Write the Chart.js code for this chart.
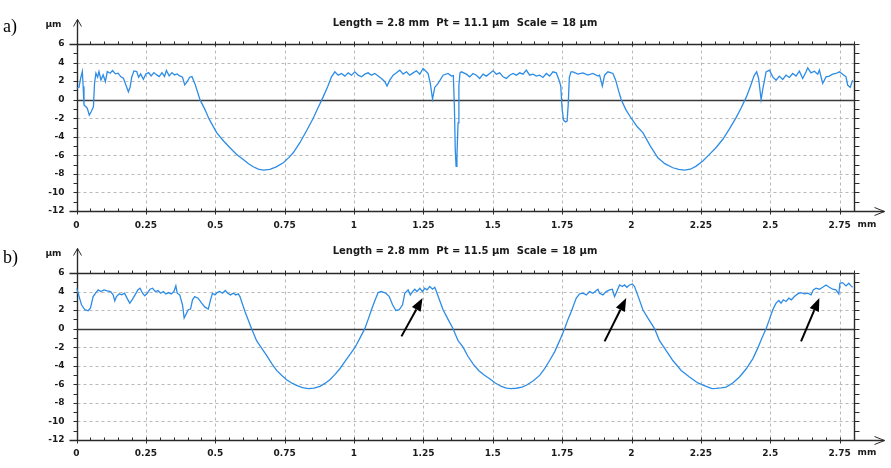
<!DOCTYPE html>
<html>
<head>
<meta charset="utf-8">
<script src="https://cdn.jsdelivr.net/npm/chart.js@4/dist/chart.umd.min.js"></script>
<style>
  html, body { margin: 0; padding: 0; background: #fff; }
  #wrap { position: relative; width: 891px; height: 468px; }
  canvas { position: absolute; left: 0; }
  #chartA { top: 0; }
  #chartB { top: 234px; }
</style>
</head>
<body>
<div id="wrap">
  <canvas id="chartA" width="891" height="234"></canvas>
  <canvas id="chartB" width="891" height="234"></canvas>
</div>
<script>
// Ejes (mm / µm)
const xTickValues = [0, 0.25, 0.5, 0.75, 1, 1.25, 1.5, 1.75, 2, 2.25, 2.5, 2.75];
const xTickLabels = ["0", "0.25", "0.5", "0.75", "1", "1.25", "1.5", "1.75", "2", "2.25", "2.5", "2.75"];
const yTickValues = [-12, -10, -8, -6, -4, -2, 0, 2, 4, 6];
const yTickLabels = ["-12", "-10", "-8", "-6", "-4", "-2", "0", "2", "4", "6"];

// Cabeceras de cada perfil
const titleA = "Length = 2.8 mm  Pt = 11.1 µm  Scale = 18 µm";
const titleB = "Length = 2.8 mm  Pt = 11.5 µm  Scale = 18 µm";

// Perfil a) [x mm, z µm]
const profileA = [
  [0.000,1.23],[0.009,1.34],[0.015,2.31],[0.021,3.03],[0.024,1.41],[0.027,-0.58],[0.034,-0.76],[0.039,-0.94],
  [0.046,-1.66],[0.053,-1.30],[0.061,-0.76],[0.065,1.77],[0.070,2.85],[0.076,2.42],[0.081,3.03],[0.088,2.13],
  [0.096,2.67],[0.104,1.95],[0.111,3.03],[0.121,2.85],[0.130,3.14],[0.140,2.78],[0.150,2.85],[0.159,2.49],
  [0.169,2.31],[0.178,1.59],[0.187,0.85],[0.193,1.34],[0.199,2.42],[0.207,3.10],[0.217,3.03],[0.224,2.42],
  [0.231,2.78],[0.241,2.20],[0.250,2.78],[0.260,2.92],[0.269,2.56],[0.279,2.92],[0.289,2.67],[0.298,2.49],
  [0.308,2.92],[0.317,2.49],[0.324,3.14],[0.334,2.56],[0.344,2.92],[0.353,2.67],[0.363,2.78],[0.372,2.56],
  [0.382,2.42],[0.390,1.59],[0.399,1.95],[0.408,2.42],[0.416,2.49],[0.427,1.70],[0.445,0.00],
  [0.463,-1.07],[0.478,-2.10],[0.505,-3.55],[0.530,-4.45],[0.553,-5.18],[0.577,-5.90],[0.601,-6.44],[0.620,-6.90],
  [0.637,-7.23],[0.655,-7.48],[0.673,-7.60],[0.697,-7.52],[0.720,-7.25],[0.745,-6.80],[0.765,-6.25],[0.781,-5.72],
  [0.805,-4.64],[0.830,-3.30],[0.853,-2.00],[0.870,-0.90],[0.889,0.30],[0.905,1.40],[0.919,2.46],[0.931,3.00],
  [0.943,2.64],[0.955,2.82],[0.967,2.54],[0.979,2.89],[0.991,2.64],[1.003,3.00],[1.015,2.64],[1.027,2.46],
  [1.039,2.75],[1.051,2.89],[1.063,2.64],[1.075,2.82],[1.087,2.54],[1.099,2.29],[1.111,1.93],[1.119,1.46],
  [1.129,2.10],[1.141,2.64],[1.153,2.89],[1.165,3.18],[1.177,2.75],[1.189,3.00],[1.201,2.64],[1.213,2.89],
  [1.225,3.11],[1.237,2.75],[1.249,3.36],[1.261,3.00],[1.267,2.82],[1.275,1.75],[1.283,0.07],[1.291,1.32],
  [1.303,1.75],[1.321,2.64],[1.339,2.82],[1.351,2.54],[1.358,2.60],[1.362,-1.00],[1.365,-5.50],[1.368,-7.20],
  [1.371,-6.00],[1.375,-2.50],[1.378,1.50],[1.382,2.90],[1.387,3.00],
  [1.405,2.75],[1.417,2.46],[1.429,2.82],[1.441,2.64],[1.453,2.29],[1.465,2.75],[1.477,2.54],[1.489,2.82],
  [1.501,3.11],[1.513,2.75],[1.525,2.89],[1.537,2.46],[1.549,2.29],[1.561,2.64],[1.573,2.82],[1.585,2.64],
  [1.597,2.89],[1.609,2.75],[1.621,3.18],[1.633,2.64],[1.645,2.75],[1.657,2.54],[1.669,2.64],[1.681,2.39],
  [1.693,2.82],[1.705,2.54],[1.717,3.00],[1.729,2.89],[1.739,2.10],[1.745,1.50],[1.750,-1.00],[1.755,-2.20],
  [1.762,-2.40],[1.768,-2.30],[1.772,-0.50],[1.776,2.40],[1.782,3.00],
  [1.789,3.00],[1.807,2.75],[1.825,2.89],[1.843,2.64],[1.861,2.82],[1.879,2.54],[1.885,2.64],[1.895,1.46],
  [1.903,2.64],[1.915,3.00],[1.933,2.82],[1.943,2.10],[1.953,1.00],[1.963,0.00],[1.980,-1.10],[1.999,-2.00],
  [2.020,-2.90],[2.041,-3.55],[2.068,-5.00],[2.095,-6.26],[2.120,-6.90],[2.149,-7.34],[2.170,-7.52],[2.191,-7.60],
  [2.212,-7.50],[2.233,-7.16],[2.257,-6.60],[2.281,-5.90],[2.305,-5.15],[2.329,-4.27],[2.353,-3.15],[2.377,-1.93],
  [2.395,-0.90],[2.414,0.30],[2.428,1.40],[2.442,2.60],[2.451,3.00],[2.458,2.30],[2.467,0.00],[2.473,1.10],
  [2.485,3.00],[2.497,3.18],
  [2.509,2.46],[2.521,2.10],[2.533,2.54],[2.545,2.18],[2.557,2.64],[2.569,2.39],[2.581,2.82],[2.593,2.54],
  [2.605,3.07],[2.617,2.29],[2.629,3.00],[2.635,3.43],[2.647,2.89],[2.659,3.07],[2.671,2.75],[2.677,3.18],
  [2.689,1.75],[2.701,2.46],[2.713,2.54],[2.725,2.75],[2.737,2.82],[2.749,3.00],[2.761,2.75],[2.773,2.46],
  [2.779,1.57],[2.788,1.32],[2.797,2.10]
];

// Perfil b) [x mm, z µm]
const profileB = [
  [0.000,4.36],[0.006,3.82],[0.018,2.57],[0.030,2.04],[0.042,1.93],[0.050,2.21],[0.060,3.46],[0.070,3.89],
  [0.078,4.18],[0.088,4.00],[0.099,4.18],[0.111,4.07],[0.123,4.00],[0.132,3.64],[0.138,3.00],[0.144,3.46],
  [0.154,3.75],[0.163,3.64],[0.173,3.82],[0.182,3.29],[0.192,2.75],[0.202,3.18],[0.211,3.64],[0.221,4.18],
  [0.229,4.36],[0.238,3.82],[0.246,3.54],[0.255,3.82],[0.265,4.25],[0.274,4.36],[0.284,4.00],[0.294,4.11],
  [0.303,3.82],[0.313,4.00],[0.322,3.75],[0.332,3.89],[0.341,3.75],[0.351,4.00],[0.358,4.61],[0.363,3.82],
  [0.372,3.64],[0.382,2.57],[0.388,1.14],[0.394,1.50],[0.403,2.04],[0.411,2.11],[0.418,3.11],[0.426,3.46],
  [0.438,3.29],[0.451,2.75],[0.463,2.32],[0.475,2.11],[0.483,3.11],[0.490,3.82],[0.499,3.64],[0.507,3.89],
  [0.516,4.00],[0.526,3.82],[0.536,4.11],[0.545,3.82],[0.555,3.64],[0.565,3.82],[0.574,3.64],[0.583,3.75],
  [0.589,3.46],
  [0.607,1.86],[0.631,0.00],[0.649,-1.29],[0.667,-2.10],[0.685,-2.89],[0.703,-3.75],[0.721,-4.50],[0.740,-5.05],
  [0.757,-5.50],[0.775,-5.85],[0.793,-6.11],[0.814,-6.35],[0.835,-6.46],[0.856,-6.40],[0.877,-6.21],[0.895,-5.90],
  [0.913,-5.50],[0.931,-4.95],[0.949,-4.32],[0.967,-3.55],[0.985,-2.80],[1.003,-2.05],[1.020,-1.10],[1.039,0.00],
  [1.051,1.00],[1.063,2.04],[1.075,3.00],[1.087,3.89],[1.099,4.00],
  [1.115,3.82],[1.127,3.46],[1.139,2.57],[1.151,1.96],[1.163,2.04],[1.175,2.57],[1.183,3.82],[1.195,4.18],
  [1.203,3.64],[1.211,4.00],[1.219,4.25],[1.227,4.00],[1.237,4.36],[1.247,4.00],[1.255,4.36],[1.263,4.18],
  [1.273,4.54],[1.283,4.25],[1.291,4.46],[1.297,4.00],
  [1.309,3.00],[1.321,2.04],[1.339,1.00],[1.357,0.00],[1.375,-1.29],[1.393,-2.00],[1.411,-3.00],[1.429,-3.79],
  [1.449,-4.50],[1.469,-5.00],[1.489,-5.39],[1.509,-5.85],[1.529,-6.20],[1.549,-6.40],[1.565,-6.46],[1.585,-6.42],
  [1.605,-6.30],[1.621,-6.10],[1.645,-5.65],[1.669,-5.04],[1.687,-4.30],[1.705,-3.43],[1.723,-2.50],[1.741,-1.29],
  [1.759,0.00],[1.771,1.00],[1.783,1.86],[1.801,3.29],[1.813,3.75],[1.825,3.82],[1.837,3.64],[1.849,4.00],
  [1.861,3.82],[1.879,4.25],
  [1.885,3.82],[1.897,3.64],[1.909,4.00],[1.921,4.18],[1.931,4.25],[1.939,3.46],[1.947,4.00],[1.957,4.71],
  [1.967,4.54],[1.975,4.71],[1.983,4.46],[1.993,4.71],[2.003,4.82],[2.011,4.54],[2.025,3.40],[2.041,2.04],
  [2.062,1.00],[2.083,0.00],[2.101,-1.29],[2.119,-2.10],[2.149,-3.43],[2.179,-4.50],[2.209,-5.21],[2.239,-5.85],
  [2.269,-6.21],[2.290,-6.46],[2.305,-6.44],[2.323,-6.38],[2.341,-6.29],[2.365,-5.85],[2.389,-5.21],[2.413,-4.35],
  [2.437,-3.25],[2.455,-2.10],[2.470,-1.00],[2.485,0.00],[2.497,1.00],[2.509,2.04],[2.521,2.75],[2.531,3.04],
  [2.539,2.75],[2.547,3.11],[2.557,2.93],[2.567,3.29],[2.576,3.11],[2.587,3.46],[2.599,3.75],[2.611,3.89],
  [2.623,3.75],[2.635,3.82],[2.647,3.64],[2.655,4.18],[2.665,4.36],[2.677,4.25],[2.689,4.46],[2.701,4.71],
  [2.713,4.46],[2.725,4.25],[2.737,4.18],[2.747,3.75],[2.751,4.89],[2.761,4.96],[2.773,4.61],[2.783,4.89],
  [2.791,4.61],[2.797,4.46]
];

// Flechas negras del panel b) (cola -> punta, en mm / µm)
const arrowTailX = [1.171, 1.903, 2.611];
const arrowTailY = [-0.83, -1.37, -1.37];
const arrowTipX = [1.247, 1.981, 2.677];
const arrowTipY = [3.30, 3.30, 3.30];

const LINE_BLUE = "rgb(45,140,230)";
const AXIS = "#2a2a2a";
const GRID = "#b9b9b9";
const TICK_FONT = { family: "DejaVu Sans", size: 9, weight: "bold" };

/* Plugin que dibuja el marco tipo perfilometro: rejilla punteada, ejes con flechas,
   marcas menores, titulo, etiqueta del panel y flechas de anotacion */
const profileFrame = {
  id: "profileFrame",
  beforeDatasetsDraw(chart, args, opts) {
    const { ctx, chartArea: a, scales: { x, y } } = chart;
    const line = (x1, y1, x2, y2) => { ctx.beginPath(); ctx.moveTo(x1, y1); ctx.lineTo(x2, y2); ctx.stroke(); };
    const px = (v) => Math.round(x.getPixelForValue(v)) + 0.5;
    const py = (v) => Math.round(y.getPixelForValue(v)) + 0.5;
    const L = Math.round(a.left) + 0.5, R = Math.round(a.right) + 0.5;
    const T = Math.round(a.top) + 0.5, B = Math.round(a.bottom) + 0.5;
    ctx.save();

    // rejilla punteada
    ctx.strokeStyle = GRID;
    ctx.lineWidth = 1;
    ctx.setLineDash([3, 3]);
    xTickValues.forEach((v) => { if (v > 0) line(px(v), T, px(v), B); });
    yTickValues.forEach((v) => { if (v !== 0 && v !== 6 && v !== -12) line(L, py(v), R, py(v)); });
    ctx.setLineDash([]);

    // linea de cero
    ctx.strokeStyle = "#3a3a3a";
    ctx.lineWidth = 1.4;
    line(L, py(0), R, py(0));

    // marco y ejes
    ctx.strokeStyle = AXIS;
    ctx.lineWidth = 1.4;
    line(L - 8, T, R, T);
    line(L - 8, B, R + 30, B);
    line(R, T, R, B);
    line(L, B, L, T - 25);

    // flecha eje y (abierta)
    ctx.lineWidth = 1;
    line(L, T - 25, L - 4, T - 18);
    line(L, T - 25, L + 4, T - 18);
    // flecha eje x (abierta)
    line(R + 30, B, R + 20, B - 4);
    line(R + 30, B, R + 20, B + 4);

    // marcas menores
    ctx.lineWidth = 1;
    for (let i = 0; i <= 56; i++) {
      const v = i * 0.05;
      const major = i % 5 === 0;
      const xx = px(v);
      line(xx, T - 3, xx, T + (major ? 2 : 0));
      line(xx, B - 3, xx, B + (major ? 3 : 0));
    }
    for (let v = -12; v <= 6; v++) {
      const yy = py(v);
      line(L - 4, yy, L, yy);
      line(R, yy, R + 5, yy);
    }

    ctx.restore();
  },
  afterDatasetsDraw(chart, args, opts) {
    const { ctx, chartArea: a, scales: { x, y } } = chart;
    ctx.save();
    ctx.fillStyle = "#1a1a1a";
    ctx.textBaseline = "middle";

    // titulo
    ctx.font = 'bold 10px "DejaVu Sans"';
    ctx.textAlign = "center";
    ctx.fillText(opts.title, (a.left + a.right) / 2, a.top - opts.titleGap);

    // unidades
    ctx.font = 'bold 9px "DejaVu Sans"';
    ctx.fillText("µm", a.left - 23, a.top - 19);
    ctx.textAlign = "left";
    ctx.fillText("mm", a.right + 4, a.bottom + opts.labelGap);

    // etiqueta del panel
    ctx.font = '18px "Liberation Serif"';
    ctx.textBaseline = "alphabetic";
    ctx.fillStyle = "#000";
    ctx.fillText(opts.label, 3, opts.labelY);

    // flechas de anotacion
    (opts.arrows || []).forEach((ar) => {
      const x1 = x.getPixelForValue(ar[0]), y1 = y.getPixelForValue(ar[1]);
      const x2 = x.getPixelForValue(ar[2]), y2 = y.getPixelForValue(ar[3]);
      const ang = Math.atan2(y2 - y1, x2 - x1);
      const head = 13, half = 5;
      const bx = x2 - head * Math.cos(ang), by = y2 - head * Math.sin(ang);
      ctx.strokeStyle = "#000";
      ctx.lineWidth = 2;
      ctx.beginPath(); ctx.moveTo(x1, y1); ctx.lineTo(bx, by); ctx.stroke();
      ctx.beginPath();
      ctx.moveTo(x2, y2);
      ctx.lineTo(bx + half * Math.sin(ang), by - half * Math.cos(ang));
      ctx.lineTo(bx - half * Math.sin(ang), by + half * Math.cos(ang));
      ctx.closePath();
      ctx.fill();
    });
    ctx.restore();
  }
};

function makeProfile(canvasId, points, cfg) {
  return new Chart(document.getElementById(canvasId), {
    type: "line",
    data: {
      datasets: [{
        data: points.map(([px, pz]) => ({ x: px, y: pz })),
        borderColor: LINE_BLUE,
        borderWidth: 1.3,
        pointRadius: 0,
        tension: 0,
        fill: false
      }]
    },
    options: {
      responsive: false,
      animation: false,
      devicePixelRatio: 1,
      layout: { padding: { left: 36.5, right: 37.5, top: cfg.top, bottom: 0 } },
      plugins: {
        legend: { display: false },
        tooltip: { enabled: false },
        profileFrame: cfg
      },
      scales: {
        x: {
          type: "linear",
          min: 0,
          max: 2.8,
          grid: { display: false, drawTicks: false },
          border: { display: false },
          afterBuildTicks: (s) => { s.ticks = xTickValues.map((v) => ({ value: v })); },
          afterFit: (s) => { s.height = cfg.xHeight; },
          ticks: {
            autoSkip: false,
            maxRotation: 0,
            padding: cfg.xPad,
            color: "#1a1a1a",
            font: TICK_FONT,
            callback: (v) => xTickLabels[xTickValues.indexOf(v)]
          }
        },
        y: {
          type: "linear",
          min: -12,
          max: 6,
          grid: { display: false, drawTicks: false },
          border: { display: false },
          afterBuildTicks: (s) => { s.ticks = yTickValues.map((v) => ({ value: v })); },
          afterFit: (s) => { s.width = 40; },
          ticks: {
            padding: 12,
            color: "#1a1a1a",
            font: TICK_FONT,
            callback: (v) => yTickLabels[yTickValues.indexOf(v)]
          }
        }
      }
    },
    plugins: [profileFrame]
  });
}

makeProfile("chartA", profileA, {
  top: 44, xHeight: 23, xPad: 9, title: titleA, titleGap: 21, labelGap: 14, label: "a)", labelY: 32, arrows: []
});

makeProfile("chartB", profileB, {
  top: 39, xHeight: 28, xPad: 8, title: titleB, titleGap: 22, labelGap: 13, label: "b)", labelY: 29,
  arrows: arrowTailX.map((v, i) => [v, arrowTailY[i], arrowTipX[i], arrowTipY[i]])
});
</script>
</body>
</html>
